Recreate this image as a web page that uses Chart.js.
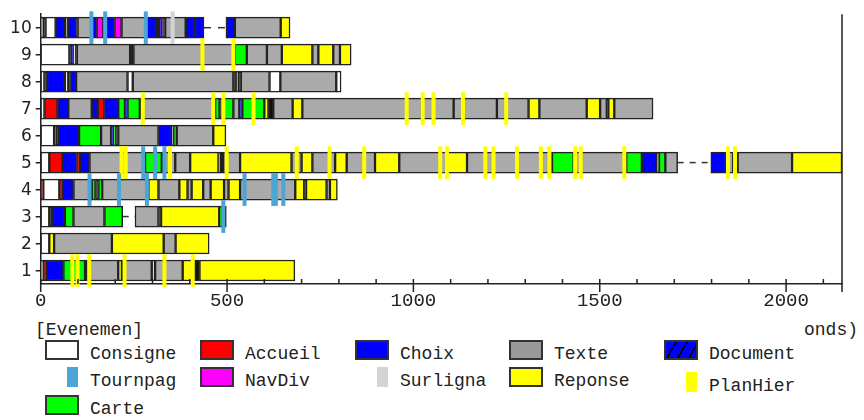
<!DOCTYPE html>
<html lang="fr">
<head>
  <meta charset="UTF-8" />
  <title>Chronogramme des évènements</title>
  <script src="https://cdn.jsdelivr.net/npm/chart.js@4"></script>
  <style>
    body { margin: 0; background: #fff; }
    #wrap {
      position: relative;
      width: 864px;
      height: 420px;
      overflow: hidden;
      font-family: 'Liberation Mono', monospace;
      color: #222;
    }
    #plot { position: absolute; left: 0; top: 0; width: 864px; height: 310px; }
    .txt { position: absolute; font-size: 18px; line-height: 20px; white-space: nowrap; }
    .box { position: absolute; width: 30px; height: 16px; border: 2px solid #333; }
    .mark { position: absolute; width: 11px; height: 20px; }
  </style>
</head>
<body>
  <div id="wrap">
    <div id="plot"><canvas id="chart"></canvas></div>
    <div class="txt" style="left:35px; top:320px;">[Evenemen]</div>
    <div class="txt" style="left:804px; top:320px;">onds)</div>
  </div>

  <script>
    // rows of the chronogram, top to bottom
    const rowLabels = ['10', '9', '8', '7', '6', '5', '4', '3', '2', '1'];
    const xTicks = [0, 500, 1000, 1500, 2000];
    const xMax = 2150;
    const minorStep = 100;

    // segments: [start, end, event] in seconds
    const seg10 = [[0, 7, 'Consigne'], [7, 13, 'Autre'], [13, 40, 'Consigne'], [40, 65, 'Choix'], [65, 74, 'Texte'],
      [74, 95, 'Choix'], [95, 99, 'Autre'], [99, 140, 'Texte'], [140, 150, 'Choix'], [150, 168, 'NavDiv'],
      [168, 198, 'Choix'], [198, 217, 'NavDiv'], [217, 284, 'Texte'], [284, 309, 'Choix'], [309, 318, 'Choix'],
      [318, 326, 'Choix'], [326, 330, 'NavDiv'], [330, 334, 'Autre'], [334, 389, 'Texte'], [389, 414, 'Choix'],
      [414, 438, 'Choix'], [497, 521, 'Choix'], [521, 644, 'Texte'], [644, 669, 'Reponse']];
    const seg9 = [[0, 77, 'Consigne'], [77, 84, 'Autre'], [84, 88, 'Choix'], [88, 93, 'Consigne'], [93, 97, 'Autre'],
      [97, 240, 'Texte'], [240, 249, 'Autre'], [249, 521, 'Texte'], [521, 553, 'Carte'], [553, 607, 'Texte'],
      [607, 647, 'Texte'], [647, 729, 'Reponse'], [729, 745, 'Texte'], [745, 785, 'Reponse'], [785, 803, 'Texte'],
      [803, 833, 'Reponse']];
    const seg8 = [[0, 10, 'Consigne'], [10, 17, 'Autre'], [17, 65, 'Choix'], [65, 74, 'Consigne'], [74, 80, 'Autre'],
      [80, 95, 'Choix'], [95, 233, 'Texte'], [233, 247, 'Consigne'], [247, 517, 'Texte'], [517, 523, 'Autre'],
      [523, 532, 'Texte'], [532, 537, 'Autre'], [537, 614, 'Texte'], [614, 643, 'Consigne'], [643, 793, 'Texte'],
      [793, 806, 'Consigne']];
    const seg7 = [[0, 10, 'Consigne'], [10, 45, 'Accueil'], [45, 74, 'Choix'], [74, 137, 'Texte'], [137, 153, 'Choix'],
      [153, 171, 'Accueil'], [171, 208, 'Choix'], [208, 226, 'Carte'], [226, 233, 'Choix'], [233, 266, 'Carte'],
      [266, 468, 'Texte'], [468, 480, 'Carte'], [480, 487, 'Autre'], [487, 517, 'Carte'], [517, 533, 'Texte'],
      [533, 541, 'Choix'], [541, 600, 'Carte'], [600, 611, 'Reponse'], [611, 624, 'Autre'], [624, 676, 'Texte'],
      [676, 702, 'Reponse'], [702, 1023, 'Texte'], [1023, 1108, 'Texte'], [1108, 1224, 'Texte'], [1224, 1309, 'Texte'],
      [1309, 1338, 'Reponse'], [1338, 1465, 'Texte'], [1465, 1501, 'Reponse'], [1501, 1519, 'Texte'],
      [1519, 1523, 'Autre'], [1523, 1539, 'Reponse'], [1539, 1643, 'Texte']];
    const seg6 = [[0, 36, 'Consigne'], [36, 43, 'Accueil'], [43, 47, 'Autre'], [47, 103, 'Choix'], [103, 162, 'Carte'],
      [162, 189, 'Texte'], [189, 195, 'Choix'], [195, 201, 'Carte'], [201, 208, 'Autre'], [208, 316, 'Texte'],
      [316, 352, 'Choix'], [352, 356, 'Texte'], [356, 365, 'Carte'], [365, 463, 'Texte'], [463, 497, 'Reponse']];
    const seg5 = [[0, 23, 'Consigne'], [23, 59, 'Accueil'], [59, 96, 'Choix'], [96, 105, 'Accueil'], [105, 131, 'Choix'],
      [131, 280, 'Texte'], [280, 325, 'Carte'], [325, 361, 'Texte'], [361, 401, 'Texte'], [401, 477, 'Reponse'],
      [477, 481, 'Texte'], [481, 490, 'Autre'], [490, 535, 'Texte'], [535, 673, 'Reponse'], [673, 700, 'Texte'],
      [700, 729, 'Reponse'], [729, 790, 'Texte'], [790, 821, 'Reponse'], [821, 897, 'Texte'], [897, 962, 'Reponse'],
      [962, 1090, 'Texte'], [1090, 1144, 'Reponse'], [1144, 1372, 'Texte'], [1372, 1430, 'Carte'],
      [1430, 1571, 'Texte'], [1571, 1613, 'Carte'], [1613, 1653, 'Choix'], [1653, 1659, 'Texte'],
      [1659, 1676, 'Carte'], [1676, 1709, 'Texte'], [1798, 1839, 'Choix'], [1839, 1858, 'Texte'],
      [1858, 1870, 'Carte'], [1870, 2016, 'Texte'], [2016, 2150, 'Reponse']];
    const seg4 = [[0, 7, 'Accueil'], [7, 50, 'Consigne'], [50, 59, 'Accueil'], [59, 88, 'Choix'], [88, 137, 'Texte'],
      [137, 147, 'Carte'], [147, 155, 'Autre'], [155, 165, 'Carte'], [165, 289, 'Texte'], [289, 316, 'Reponse'],
      [316, 372, 'Texte'], [372, 394, 'Reponse'], [394, 405, 'Texte'], [405, 436, 'Reponse'], [436, 456, 'Texte'],
      [456, 492, 'Reponse'], [492, 504, 'Texte'], [504, 535, 'Reponse'], [535, 548, 'Texte'], [548, 683, 'Texte'],
      [683, 707, 'Reponse'], [707, 712, 'Autre'], [712, 767, 'Reponse'], [767, 776, 'Texte'], [776, 796, 'Reponse']];
    const seg3 = [[0, 23, 'Consigne'], [23, 30, 'Autre'], [30, 65, 'Choix'], [65, 88, 'Carte'], [88, 171, 'Texte'],
      [171, 220, 'Carte'], [253, 316, 'Texte'], [316, 323, 'Autre'], [323, 479, 'Reponse'], [479, 488, 'Carte'],
      [488, 498, 'Autre']];
    const seg2 = [[0, 23, 'Consigne'], [23, 36, 'Reponse'], [36, 191, 'Texte'], [191, 330, 'Reponse'],
      [330, 362, 'Texte'], [362, 452, 'Reponse']];
    const seg1 = [[0, 7, 'Consigne'], [7, 16, 'Accueil'], [16, 61, 'Choix'], [61, 119, 'Carte'], [119, 128, 'Autre'],
      [128, 208, 'Texte'], [208, 218, 'Reponse'], [218, 298, 'Texte'], [298, 307, 'Reponse'], [307, 381, 'Texte'],
      [381, 414, 'Reponse'], [414, 426, 'Autre'], [426, 682, 'Reponse']];

    // point events: [row, time]
    const tournpag = [['10', 136], ['10', 173], ['10', 282], ['5', 275], ['5', 307], ['5', 332],
      ['4', 131], ['4', 210], ['4', 285], ['4', 547], ['4', 624], ['4', 631], ['4', 651], ['3', 490]];
    const surligna = [['10', 354]];
    const planHier = [['9', 434], ['9', 517],
      ['7', 274], ['7', 463], ['7', 490], ['7', 571], ['7', 982], ['7', 1025], ['7', 1054], ['7', 1133], ['7', 1249],
      ['5', 217], ['5', 228], ['5', 347], ['5', 499], ['5', 687], ['5', 775], ['5', 868], ['5', 1072], ['5', 1090],
      ['5', 1193], ['5', 1215], ['5', 1278], ['5', 1342], ['5', 1365], ['5', 1434], ['5', 1449], ['5', 1566],
      ['5', 1844], ['5', 1863],
      ['1', 85], ['1', 99], ['1', 130], ['1', 225], ['1', 332], ['1', 408]];

    // idle gaps drawn dashed: [row, from, to]
    const gaps = [['10', 438, 497], ['5', 1709, 1798], ['3', 220, 253]];

    const colors = {
      Consigne: '#ffffff', Accueil: '#ff0000', Choix: '#0000ff', Texte: '#aaaaaa', NavDiv: '#ff00ff',
      Reponse: '#ffff00', Carte: '#00ff00', Autre: '#111111',
      Tournpag: '#4ba6d6', Surligna: '#d4d4d4', PlanHier: '#ffff00'
    };

    const rowSegments = { '10': seg10, '9': seg9, '8': seg8, '7': seg7, '6': seg6, '5': seg5, '4': seg4, '3': seg3, '2': seg2, '1': seg1 };
    const segTypes = ['Consigne', 'Accueil', 'Choix', 'Texte', 'NavDiv', 'Reponse', 'Carte', 'Autre'];
    const markerHalf = 4.5;

    const segSets = segTypes.map(type => ({
      label: type,
      data: rowLabels.flatMap(r => rowSegments[r].filter(s => s[2] === type).map(s => ({ y: r, x: [s[0], s[1]] }))),
      backgroundColor: colors[type],
      borderColor: '#222',
      borderWidth: 1.5,
      borderSkipped: false,
      barThickness: 21,
      grouped: false,
      order: 2
    }));

    const markSets = [['Tournpag', tournpag], ['Surligna', surligna], ['PlanHier', planHier]].map(([name, arr]) => ({
      label: name,
      data: arr.map(([r, v]) => ({ y: r, x: [v - markerHalf, v + markerHalf] })),
      backgroundColor: colors[name],
      borderWidth: 0,
      barThickness: 32,
      grouped: false,
      clip: false,
      order: 1
    }));

    const gapSets = gaps.map(([r, a, b]) => ({
      type: 'line',
      label: 'gap',
      data: [{ x: a, y: r }, { x: b, y: r }],
      borderColor: '#333',
      borderWidth: 1.5,
      borderDash: r === '10' ? [7, 7] : [6, 6],
      pointRadius: 0,
      indexAxis: 'y',
      order: 3
    }));

    // x ticks: minor every 100 pointing up, major ones crossing the axis
    const axisExtras = {
      id: 'axisExtras',
      afterDraw(chart) {
        const { ctx, chartArea: a, scales: { x } } = chart;
        ctx.save();
        ctx.strokeStyle = '#222';
        ctx.lineWidth = 1.5;
        ctx.beginPath();
        for (let v = 0; v <= x.max; v += minorStep) {
          const px = x.getPixelForValue(v);
          ctx.moveTo(px, a.bottom - 5);
          ctx.lineTo(px, a.bottom + (xTicks.includes(v) ? 8 : 0));
        }
        const pe = x.getPixelForValue(x.max);
        ctx.moveTo(pe, a.top);
        ctx.lineTo(pe, a.bottom + 8);
        ctx.stroke();
        ctx.restore();
      }
    };

    new Chart(document.getElementById('chart'), {
      type: 'bar',
      data: { labels: rowLabels, datasets: [...markSets, ...segSets, ...gapSets] },
      options: {
        indexAxis: 'y',
        responsive: true,
        maintainAspectRatio: false,
        animation: false,
        layout: { padding: { top: 6, right: 22, bottom: 0, left: 0 } },
        plugins: { legend: { display: false }, tooltip: { enabled: false } },
        scales: {
          x: {
            type: 'linear',
            min: 0,
            max: xMax,
            grid: { display: false, drawTicks: false },
            border: { display: true, color: '#222', width: 1.5 },
            afterBuildTicks: s => { s.ticks = xTicks.map(v => ({ value: v })); },
            ticks: {
              font: { family: 'Liberation Mono', size: 19 }, color: '#222', padding: 6,
              maxRotation: 0, autoSkip: false, callback: v => String(v)
            },
            afterFit: s => { s.height = 26; }
          },
          y: {
            type: 'category',
            labels: rowLabels,
            offset: true,
            grid: { display: true, drawOnChartArea: false, drawTicks: true, tickLength: 5, offset: false, color: '#222', lineWidth: 1.5 },
            border: { display: true, color: '#222', width: 1.5 },
            ticks: { font: { family: 'DejaVu Sans', size: 17 }, color: '#222', padding: 4, labelOffset: 1 },
            afterFit: s => { s.width = 40.7; }
          }
        }
      },
      plugins: [axisExtras]
    });

    // legend, laid out on a 5-column grid
    const legendItems = [
      ['Consigne', 'box'], ['Accueil', 'box'], ['Choix', 'box'], ['Texte', 'box'], ['Document', 'hatch'],
      ['Tournpag', 'mark'], ['NavDiv', 'box'], ['Surligna', 'mark'], ['Reponse', 'box'], ['PlanHier', 'mark'],
      ['Carte', 'box']
    ];
    const legendCols = [45, 200, 355, 509, 664];
    const legendRows = [340, 367, 395];
    const wrap = document.getElementById('wrap');
    legendItems.forEach(([name, kind], i) => {
      const x = legendCols[i % 5];
      const y = legendRows[Math.floor(i / 5)] + (name === 'PlanHier' ? 5 : 0);
      const sw = document.createElement('div');
      if (kind === 'mark') {
        sw.className = 'mark';
        sw.style.left = (x + 22) + 'px';
        sw.style.top = y + 'px';
        sw.style.background = colors[name];
      } else {
        sw.className = 'box';
        sw.style.left = x + 'px';
        sw.style.top = y + 'px';
        sw.style.background = kind === 'hatch'
          ? 'repeating-linear-gradient(120deg, #0000ff 0 8px, #000 8px 9.5px)'
          : (name === 'Texte' ? '#999999' : colors[name]);
      }
      wrap.appendChild(sw);
      const t = document.createElement('div');
      t.className = 'txt';
      t.style.left = (x + 45) + 'px';
      t.style.top = (y + 4) + 'px';
      t.textContent = name;
      wrap.appendChild(t);
    });
  </script>
</body>
</html>
